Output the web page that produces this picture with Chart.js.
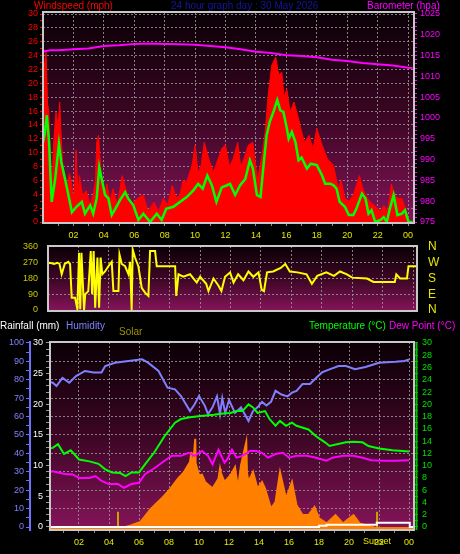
<!DOCTYPE html>
<html>
<head>
<meta charset="utf-8">
<script src="https://cdn.jsdelivr.net/npm/chart.js@4.4.1/dist/chart.umd.min.js"></script>
<style>
  body { margin: 0; background: #000; width: 460px; height: 554px; overflow: hidden; position: relative;
         font-family: "Liberation Sans", Arial, sans-serif; }
  canvas { position: absolute; left: 0; top: 0; }
  .lbl { position: absolute; font-size: 10px; line-height: 10px; white-space: nowrap; }
</style>
</head>
<body>
<canvas id="windChart" width="460" height="554"></canvas>
<canvas id="dirChart" width="460" height="554"></canvas>
<canvas id="tempChart" width="460" height="554"></canvas>

<div class="lbl" style="left:34px;top:1px;color:#ff0000">Windspeed (mph)</div>
<div class="lbl" style="left:171px;top:1px;color:#1414a0">24 hour graph day : 30 May 2026</div>
<div class="lbl" style="left:367px;top:1px;color:#ff00ff">Barometer (hpa)</div>
<div class="lbl" style="left:0px;top:321px;color:#ffffff">Rainfall (mm)</div>
<div class="lbl" style="left:66px;top:321px;color:#8080ff">Humidity</div>
<div class="lbl" style="left:119px;top:327px;color:#a09000">Solar</div>
<div class="lbl" style="left:309px;top:321px;color:#00ff00">Temperature (°C)</div>
<div class="lbl" style="left:389px;top:321px;color:#ff00ff">Dew Point (°C)</div>

<script>
// ---- wind (mph) and pressure, hours since midnight ----
const windHours = [0, 0.1, 0.25, 0.4, 0.57, 0.8, 1.05, 1.2, 1.45, 1.67,
  1.9, 2.2, 2.55, 2.76, 3.1, 3.3, 3.53, 3.7, 3.86, 4.08,
  4.3, 4.52, 4.75, 5.07, 5.4, 5.6, 5.94, 6.27, 6.6, 7.04,
  7.48, 7.8, 8.1, 8.57, 9.0, 9.45, 9.9, 10.2, 10.5, 10.8,
  11.1, 11.4, 11.75, 12.1, 12.3, 12.63, 12.96, 13.3, 13.6, 13.8,
  14.06, 14.3, 14.5, 14.7, 14.9, 15.15, 15.4, 15.6, 15.8, 16.03,
  16.15, 16.36, 16.6, 16.8, 17.0, 17.35, 17.6, 18.0, 18.35, 18.55,
  18.9, 19.1, 19.3, 19.5, 19.85, 20.1, 20.4, 20.6, 20.97, 21.2,
  21.4, 21.6, 21.84, 22.2, 22.4, 22.6, 22.8, 23.05, 23.3, 23.6,
  23.8, 24.03, 24.3];
const windMph = [11.5, 12.5, 15.4, 11.5, 2.9, 6.2, 11.3, 8.7, 6.2, 3.9,
  1.4, 2.2, 2.9, 1.2, 2.4, 1.2, 3.4, 7.9, 6.2, 3.9,
  3.4, 1.0, 1.9, 3.2, 4.3, 3.4, 2.4, 0.3, 1.2, 0,
  1.2, 0.3, 1.9, 2.2, 2.9, 3.6, 4.6, 5.5, 4.8, 6.7,
  5.3, 2.9, 5.0, 5.3, 5.5, 3.9, 5.3, 6.2, 8.9, 7.7,
  3.9, 3.6, 8.2, 12.5, 14.4, 15.9, 17.6, 16.1, 15.9, 13.5,
  12.0, 13.0, 11.5, 8.9, 9.3, 7.7, 8.4, 8.2, 6.7, 5.5,
  5.5, 5.3, 4.8, 2.9, 2.2, 1.0, 1.0, 1.9, 4.1, 3.4,
  1.2, 1.7, 0, 0.3, 0.7, 0, 1.9, 3.9, 1.0, 1.2,
  1.7, 0, 0];

const gustHours = [0, 0.1, 0.2, 0.3, 0.38, 0.46, 0.57, 0.68, 0.85, 1.0,
  1.1, 1.2, 1.34, 1.55, 1.75, 1.9, 2.05, 2.17, 2.3, 2.4,
  2.6, 2.85, 3.1, 3.3, 3.45, 3.53, 3.65, 3.86, 4.0, 4.2,
  4.4, 4.6, 4.9, 5.2, 5.5, 5.8, 6.2, 6.6, 6.9, 7.3,
  7.6, 7.9, 8.2, 8.5, 8.75, 9.0, 9.2, 9.45, 9.8, 10.0,
  10.2, 10.4, 10.6, 10.9, 11.2, 11.5, 11.75, 12.0, 12.25, 12.5,
  12.8, 13.0, 13.2, 13.5, 13.8, 14.1, 14.4, 14.6, 14.8, 15.04,
  15.3, 15.5, 15.7, 15.85, 16.03, 16.25, 16.5, 16.8, 17.0, 17.2,
  17.5, 17.75, 18.0, 18.35, 18.7, 19.1, 19.4, 19.6, 19.85, 20.1,
  20.4, 20.8, 21.0, 21.2, 21.5, 21.9, 22.2, 22.4, 22.65, 22.9,
  23.1, 23.3, 23.6, 23.75, 23.9, 24.1, 24.3];
const gustMph = [12, 22.8, 24.5, 17, 16, 10.1, 2.4, 10.6, 15.9, 14,
  17.3, 12, 6.7, 4.8, 7, 5.3, 3, 10.4, 4, 6.7,
  3.9, 4.5, 2.4, 4, 6, 11.5, 12.5, 5.8, 3.5, 5.5,
  3, 4.8, 2.5, 6.7, 4.3, 2.5, 3.4, 3.9, 1.5, 2.9,
  1.5, 3.4, 2.5, 5.3, 3.5, 3.9, 6, 5.8, 8.2, 11.1,
  7, 8.2, 11.5, 9.1, 7.2, 9, 10.6, 11.1, 8, 9.1,
  11.5, 8, 9.1, 11.1, 11.5, 6.0, 9.6, 12.9, 18.3, 22.6,
  23.8, 21.2, 21.6, 18, 19.2, 15.9, 17.3, 14.9, 13, 11.5,
  12.5, 10.5, 13.5, 11.1, 9.1, 8.2, 4.8, 6, 3.4, 3,
  3.9, 6.7, 5, 3.9, 2.9, 2.2, 1.5, 2.4, 1.5, 5.5,
  4, 3.4, 3.4, 2.5, 1.4, 0, 0];

const baroHours = [0, 0.5, 1, 2, 3, 4, 5, 6, 7, 8, 9, 10, 11, 12, 13, 14, 15, 16, 17, 18, 19, 20, 21, 22, 23, 24, 24.3];
const baroHpa = [1016.0, 1016.3, 1016.3, 1016.5, 1016.7, 1017.3, 1017.5, 1017.8, 1017.9, 1017.8, 1017.7, 1017.6,
  1017.3, 1017.0, 1016.5, 1015.9, 1015.6, 1015.1, 1014.9, 1014.6, 1014.0, 1013.7, 1013.2, 1012.9, 1012.6, 1012.1, 1012.0];

// ---- wind direction (degrees) ----
const dirHours = [0, 0.13, 0.4, 0.6, 0.75, 0.9, 1.1, 1.33, 1.45, 1.56,
  1.78, 1.93, 2.04, 2.12, 2.2, 2.37, 2.45, 2.65, 2.81, 2.9,
  3.0, 3.1, 3.25, 3.36, 3.46, 3.57, 3.75, 3.97, 4.19, 4.3,
  4.63, 4.7, 4.85, 5.07, 5.29, 5.4, 5.5, 5.57, 5.72, 5.94,
  6.16, 6.38, 6.6, 6.71, 7.04, 7.15, 8.36, 8.43, 8.58, 8.9,
  9.34, 9.78, 10.0, 10.4, 10.55, 10.88, 11.2, 11.4, 11.64, 11.97,
  12.2, 12.5, 12.85, 13.18, 13.5, 13.84, 14.05, 14.2, 14.4, 14.8,
  15.3, 15.6, 15.9, 16.4, 17.0, 17.35, 17.7, 18.3, 18.8, 19.2,
  19.65, 20.0, 20.97, 21.4, 22.8, 22.9, 23.15, 23.6, 23.7, 24.1,
  24.3];
const dirDeg = [265, 270, 263, 270, 265, 204, 263, 275, 263, 70,
  70, 5, 327, 5, 327, 0, 90, 108, 337, 90,
  337, 13, 300, 13, 300, 204, 220, 250, 275, 108,
  108, 317, 263, 250, 204, 275, 0, 345, 300, 250,
  127, 99, 80, 337, 337, 250, 250, 80, 204, 190,
  204, 157, 190, 150, 108, 180, 140, 108, 190, 215,
  157, 204, 170, 220, 190, 215, 115, 108, 215, 220,
  240, 263, 220, 215, 204, 150, 195, 215, 195, 220,
  204, 185, 180, 160, 160, 204, 180, 180, 250, 250,
  250];
const compassTicks = [0, 90, 180, 270, 360];
const compassNames = ['N', 'E', 'S', 'W', 'N'];

// ---- humidity (%), temperature, dew point (°C), solar, rain (mm) ----
const humHours = [0, 0.25, 0.5, 0.9, 1.35, 1.8, 2.4, 2.97, 3.5, 3.75,
  4.4, 5.3, 6.2, 6.6, 7.3, 7.9, 8.4, 8.8, 9.4, 9.7,
  10.0, 10.4, 10.6, 10.9, 11.2, 11.4, 11.55, 11.75, 12.0, 12.4,
  12.8, 13.3, 13.6, 13.9, 14.2, 14.5, 14.8, 15.1, 15.5, 15.9,
  16.2, 16.5, 16.9, 17.4, 17.8, 18.2, 18.7, 19.3, 19.8, 20.4,
  21.1, 22.0, 23.1, 23.7, 24.0];
const humPct = [79, 78.4, 76.6, 81, 78.4, 82, 84.8, 84, 84, 87.5,
  89.3, 90.2, 91.1, 89.3, 84.8, 75.7, 74.8, 71.2, 63, 66.6,
  71.2, 65.7, 61.4, 65, 71, 61.4, 70, 62, 69, 62,
  65, 57.6, 63, 65, 68, 66, 68, 74, 72, 71,
  73, 74, 77.7, 77.7, 81, 84, 85.7, 87.5, 87.5, 85.7,
  87, 89.3, 89.8, 90.2, 91];

const tempHours = [0, 0.25, 0.6, 1.0, 1.45, 2.0, 2.7, 3.3, 3.75, 4.2,
  4.75, 5.1, 5.5, 6.0, 6.4, 7.0, 7.7, 8.4, 8.8, 9.4,
  10.1, 11.0, 11.6, 12.1, 12.5, 12.9, 13.3, 13.6, 13.9, 14.4,
  14.7, 15.1, 15.4, 15.8, 16.2, 16.5, 17.3, 17.8, 18.4, 18.7,
  19.2, 19.8, 20.3, 20.9, 21.3, 22.0, 22.9, 24.0];
const tempC = [12.8, 12.9, 13.5, 11.9, 12.5, 11.0, 10.7, 10.3, 9.4, 8.9,
  8.8, 8.3, 8.9, 8.9, 10.2, 12.1, 14.8, 17.0, 17.6, 17.9,
  18.1, 18.3, 18.5, 18.6, 18.9, 18.9, 20.0, 19.5, 18.6, 18.9,
  17.6, 16.5, 17.3, 16.5, 17.0, 16.5, 15.9, 14.8, 13.8, 13.2,
  13.5, 13.8, 13.9, 13.8, 13.2, 12.8, 12.5, 12.3];

const dewHours = [0, 0.25, 0.6, 1.15, 1.55, 2.0, 2.7, 3.1, 3.5, 4.0,
  4.6, 5.0, 5.5, 6.0, 6.4, 7.1, 7.7, 8.2, 8.8, 9.3,
  9.7, 10.2, 10.6, 10.9, 11.3, 11.7, 11.9, 12.2, 12.5, 12.9,
  13.4, 13.8, 14.2, 14.6, 15.1, 15.6, 16.0, 16.5, 17.2, 17.8,
  18.5, 18.9, 19.6, 20.3, 20.9, 21.5, 22.3, 23.1, 24.0];
const dewC = [9.0, 9.1, 8.9, 8.6, 8.6, 8.0, 8.0, 8.3, 7.5, 7.0,
  7.0, 6.4, 7.0, 7.2, 8.6, 9.7, 10.8, 11.6, 11.6, 12.1,
  11.6, 12.4, 11.6, 10.2, 12.6, 10.5, 11.1, 12.6, 11.3, 11.6,
  12.4, 12.4, 12.1, 11.3, 11.9, 12.1, 11.3, 11.6, 11.6, 11.3,
  10.8, 11.3, 11.6, 11.6, 11.3, 10.9, 10.8, 10.8, 10.9];

const solarHours = [0, 4.9, 5.5, 6.1, 6.8, 7.5, 8.1, 8.6, 9.0, 9.4,
  9.5, 9.55, 9.6, 9.75, 9.8, 9.85, 10.0, 10.2, 10.4, 10.9,
  11.3, 11.4, 11.45, 11.7, 12.1, 12.4, 12.6, 12.8, 13.15, 13.2,
  13.3, 13.6, 13.9, 14.2, 14.4, 14.8, 15.1, 15.4, 15.8, 16.2,
  16.5, 16.9, 17.3, 17.7, 18.0, 18.5, 19.1, 19.6, 20.3, 20.7,
  21.4, 21.8, 24.3];
const solarWm2 = [0, 0, 15, 33, 105, 160, 214, 268, 304, 359,
  413, 200, 330, 485, 200, 330, 286, 290, 250, 214,
  268, 322, 300, 250, 286, 331, 214, 340, 467, 300,
  250, 304, 214, 250, 214, 105, 141, 304, 160, 250,
  123, 70, 70, 114, 52, 25, 70, 25, 70, 25,
  8, 0, 0];

const rainHours = [0, 18.0, 18.5, 21.85, 24.05, 24.3];
const rainMm = [0, 0.2, 0.35, 0.7, 0, 0];

const sunHours = [4.6, 21.87]; // sunrise, sunset
const sunMarkHeight = 2.5;

// ---- helpers ----
const GRID = 'rgba(150,150,150,0.85)';
const TICK_YELLOW = '#e6e600';

Chart.defaults.font.family = '"Liberation Sans", Arial, sans-serif';
Chart.defaults.font.size = 9;
Chart.defaults.animation = false;
Chart.defaults.plugins.legend.display = false;
Chart.defaults.plugins.tooltip.enabled = false;
Chart.defaults.elements.point.radius = 0;

function points(xs, ys) {
  return xs.map((x, i) => ({ x: x, y: ys[i] }));
}

function stepTicks(from, to, step) {
  const out = [];
  for (let v = from; v <= to + 1e-9; v += step) out.push({ value: Math.round(v * 1000) / 1000 });
  return out;
}

function hourLabel(v) {
  return String(v % 24).padStart(2, '0');
}

function xAxis(min, max, showLabels, height, pad) {
  return {
    type: 'linear', min: min, max: max,
    afterBuildTicks: s => { s.ticks = stepTicks(1, 24, 1); },
    afterFit: s => { s.height = height; },
    ticks: {
      display: showLabels, autoSkip: false, maxRotation: 0, color: TICK_YELLOW, padding: pad,
      callback: v => (v % 2 === 0 ? hourLabel(v) : '')
    },
    grid: {
      color: c => (c.tick && c.tick.value % 2 === 0 ? GRID : 'transparent'),
      tickColor: '#8c8c8c', tickLength: 3, drawTicks: showLabels
    },
    border: { display: false, dash: [2, 2] }
  };
}

// background gradient + frame round the plot area
const framePlugin = {
  id: 'frame',
  beforeDraw(chart, args, opts) {
    const { ctx, chartArea: a } = chart;
    const g = ctx.createLinearGradient(0, a.top, 0, a.bottom);
    g.addColorStop(0, '#0a0005');
    g.addColorStop(0.5, '#3c0624');
    g.addColorStop(1, '#86145a');
    ctx.save();
    ctx.fillStyle = g;
    ctx.fillRect(a.left, a.top, a.right - a.left, a.bottom - a.top);
    ctx.restore();
  },
  afterDraw(chart, args, opts) {
    const { ctx, chartArea: a } = chart;
    ctx.save();
    ctx.strokeStyle = '#c8c8c8';
    ctx.lineWidth = 2;
    ctx.strokeRect(a.left, a.top, a.right - a.left, a.bottom - a.top);
    if (opts.rightLine) {
      ctx.strokeStyle = opts.rightLine;
      ctx.beginPath();
      ctx.moveTo(a.right + 2.5, a.top);
      ctx.lineTo(a.right + 2.5, a.bottom);
      ctx.stroke();
    }
    ctx.restore();
  }
};

// ---- panel 1: wind speed + barometer ----
new Chart(document.getElementById('windChart'), {
  type: 'line',
  data: {
    datasets: [
      { label: 'Barometer', data: points(baroHours, baroHpa), yAxisID: 'yBaro',
        borderColor: '#ff00ff', borderWidth: 2 },
      { label: 'Wind speed', data: points(windHours, windMph), yAxisID: 'y',
        borderColor: '#00ff00', borderWidth: 2.5 },
      { label: 'Gust', data: points(gustHours, gustMph), yAxisID: 'y',
        borderColor: '#ff0000', backgroundColor: '#ff0000', borderWidth: 1, fill: 'start' }
    ]
  },
  options: {
    responsive: false, devicePixelRatio: 1,
    layout: { padding: { top: 12, left: 0, right: 0, bottom: 309 } },
    plugins: { frame: {} },
    scales: {
      x: xAxis(0, 24.39, true, 22, 4),
      y: {
        position: 'left', min: -0.144, max: 30.29,
        afterBuildTicks: s => { s.ticks = stepTicks(0, 30, 1); },
        afterFit: s => { s.width = 43; },
        ticks: { autoSkip: false, color: '#ff0000', padding: 2, callback: v => (v % 2 === 0 ? v : '') },
        grid: { color: c => (c.tick && c.tick.value % 2 === 0 ? GRID : 'transparent'), tickColor: '#ff0000', tickLength: 3 },
        border: { display: false, dash: [2, 2] }
      },
      yBaro: {
        position: 'right', min: 974.76, max: 1025.48,
        afterBuildTicks: s => { s.ticks = stepTicks(975, 1025, 1); },
        afterFit: s => { s.width = 46; },
        ticks: { autoSkip: false, color: '#ff00ff', padding: 3, callback: v => (v % 5 === 0 ? v : '') },
        grid: { drawOnChartArea: false, tickColor: '#ff00ff', tickLength: 3 },
        border: { display: false }
      }
    }
  },
  plugins: [framePlugin]
});

// ---- panel 2: wind direction ----
new Chart(document.getElementById('dirChart'), {
  type: 'line',
  data: {
    datasets: [
      { label: 'Direction', data: points(dirHours, dirDeg), borderColor: '#ffff00', borderWidth: 2 }
    ]
  },
  options: {
    responsive: false, devicePixelRatio: 1,
    layout: { padding: { top: 246, left: 0, right: 0, bottom: 243 } },
    plugins: { frame: {} },
    scales: {
      x: xAxis(0, 24.26, false, 0, 0),
      y: {
        position: 'left', min: -5.7, max: 365.7,
        afterBuildTicks: s => { s.ticks = compassTicks.map(v => ({ value: v })); },
        afterFit: s => { s.width = 48; },
        ticks: { autoSkip: false, color: '#c8c800', padding: 10 },
        grid: { color: c => (c.tick && c.tick.value > 0 && c.tick.value < 360 ? GRID : 'transparent'), drawTicks: false },
        border: { display: false, dash: [2, 2] }
      },
      yDir: {
        position: 'right', min: -5.7, max: 365.7,
        afterBuildTicks: s => { s.ticks = compassTicks.map(v => ({ value: v })); },
        afterFit: s => { s.width = 43; },
        ticks: { autoSkip: false, color: TICK_YELLOW, padding: 11, font: { size: 12 },
                 callback: (v, i) => compassNames[compassTicks.indexOf(v)] },
        grid: { drawOnChartArea: false, drawTicks: false },
        border: { display: false }
      }
    }
  },
  plugins: [framePlugin]
});

// ---- panel 3: humidity, temperature, dew point, solar, rain ----
const sunsetLabel = {
  id: 'sunsetLabel',
  afterDraw(chart) {
    const { ctx, scales, chartArea } = chart;
    ctx.save();
    ctx.font = '9px "Liberation Sans", Arial, sans-serif';
    ctx.fillStyle = TICK_YELLOW;
    ctx.textAlign = 'center';
    ctx.textBaseline = 'top';
    ctx.fillText('Sunset', scales.x.getPixelForValue(sunHours[1]), chartArea.bottom + 7);
    ctx.restore();
  }
};

const sunMarks = [];
sunHours.forEach(h => {
  sunMarks.push({ x: h, y: -1 }, { x: h, y: sunMarkHeight }, { x: h, y: null });
});

new Chart(document.getElementById('tempChart'), {
  type: 'line',
  data: {
    datasets: [
      { label: 'Dew Point', data: points(dewHours, dewC), yAxisID: 'yTemp', borderColor: '#ff00ff', borderWidth: 2 },
      { label: 'Temperature', data: points(tempHours, tempC), yAxisID: 'yTemp', borderColor: '#00ff00', borderWidth: 2 },
      { label: 'Humidity', data: points(humHours, humPct), yAxisID: 'yHum', borderColor: '#8080ff', borderWidth: 2 },
      { label: 'Rainfall', data: points(rainHours, rainMm), yAxisID: 'yRain', borderColor: '#ffffff', borderWidth: 2, stepped: true },
      { label: 'Sun', data: sunMarks, yAxisID: 'yRain', borderColor: '#d0a000', borderWidth: 2, spanGaps: false },
      { label: 'Solar', data: points(solarHours, solarWm2), yAxisID: 'ySolar',
        borderColor: '#ff8000', backgroundColor: '#ff8000', borderWidth: 2, fill: 'start' }
    ]
  },
  options: {
    responsive: false, devicePixelRatio: 1,
    layout: { padding: { top: 342, left: 0, right: 0, bottom: 0 } },
    plugins: { frame: { rightLine: '#00c000' } },
    scales: {
      x: xAxis(0.0667, 24.333, true, 24, 4),
      yHum: {
        position: 'left', weight: 1, min: -1.63, max: 100.54,
        afterBuildTicks: s => { s.ticks = stepTicks(0, 100, 5); },
        afterFit: s => { s.width = 30; },
        ticks: { autoSkip: false, color: '#8080ff', padding: 2, callback: v => (v % 10 === 0 ? v : '') },
        grid: { color: c => (c.tick && c.tick.value % 10 === 0 ? GRID : 'transparent'), tickColor: '#7070ff', tickLength: 4 },
        border: { display: true, color: '#7070ff', width: 2, dash: [2, 2] }
      },
      yRain: {
        position: 'left', weight: 0, min: -0.49, max: 30.16,
        afterBuildTicks: s => { s.ticks = stepTicks(0, 30, 1); },
        afterFit: s => { s.width = 20; },
        ticks: { autoSkip: false, color: '#ffffff', padding: 3, callback: v => (v % 5 === 0 ? v : '') },
        grid: { drawOnChartArea: false, tickColor: '#9a9a9a', tickLength: 4 },
        border: { display: false }
      },
      yTemp: {
        position: 'right', min: -0.49, max: 30.16,
        afterBuildTicks: s => { s.ticks = stepTicks(0, 30, 1); },
        afterFit: s => { s.width = 46; },
        ticks: { autoSkip: false, color: '#00e000', padding: 4, callback: v => (v % 2 === 0 ? v : '') },
        grid: { drawOnChartArea: false, tickColor: '#00c000', tickLength: 4 },
        border: { display: false }
      },
      ySolar: { display: false, min: -10.9, max: 1010.9 }
    }
  },
  plugins: [framePlugin, sunsetLabel]
});
</script>
</body>
</html>
